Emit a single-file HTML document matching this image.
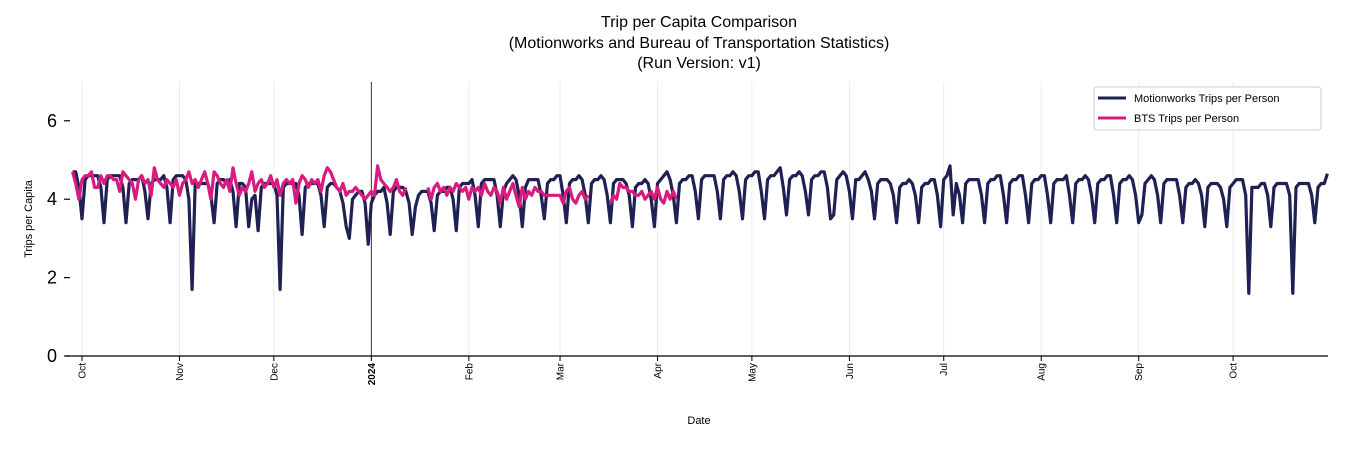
<!DOCTYPE html>
<html><head><meta charset="utf-8"><style>
html,body{margin:0;padding:0;background:#fff;}
svg{display:block;font-family:"Liberation Sans","DejaVu Sans",sans-serif;}
</style></head><body>
<svg id="chart" width="1350" height="450" viewBox="0 0 1350 450">
<g font-size="16" fill="#000" text-anchor="middle">
<text x="699" y="27">Trip per Capita Comparison</text>
<text x="699" y="48">(Motionworks and Bureau of Transportation Statistics)</text>
<text x="699" y="68">(Run Version: v1)</text>
</g>
<g id="grid"></g>
<g id="series"></g>
<line x1="66" y1="356" x2="1328" y2="356" stroke="#000" stroke-width="1.2"/>
<g id="yaxis"></g>
<g id="xaxis"></g>
<text transform="translate(32,219) rotate(-90)" text-anchor="middle" font-size="11">Trips per Capita</text>
<text x="699" y="424" text-anchor="middle" font-size="11">Date</text>
<g>
<rect x="1094" y="87" width="227" height="43" rx="3" fill="#fff" stroke="#ccc" stroke-width="1"/>
<g>
<line x1="1098" y1="98" x2="1126" y2="98" stroke="#1f2054" stroke-width="3"/>
<text x="1134" y="102" font-size="11">Motionworks Trips per Person</text></g>
<g>
<line x1="1098" y1="118" x2="1126" y2="118" stroke="#d81b7f" stroke-width="3"/>
<text x="1134" y="122" font-size="11">BTS Trips per Person</text></g>
</g>
</svg>
<script>
// Data: daily values starting Thu 2023-09-28
const mwValues = [
4.7,4.7,4.3,3.5,4.5,4.6,4.6,
4.6,4.6,4.3,3.4,4.5,4.6,4.6,
4.6,4.6,4.3,3.4,4.4,4.5,4.5,
4.5,4.6,4.2,3.5,4.4,4.5,4.5,
4.5,4.6,4.3,3.4,4.5,4.6,4.6,
4.6,4.5,4.0,1.7,4.4,4.4,4.4,
4.4,4.4,4.1,3.4,4.4,4.5,4.5,
4.4,4.5,4.2,3.3,4.4,4.4,4.3,
3.3,4.0,4.1,3.2,4.3,4.4,4.4,
4.4,4.4,4.1,1.7,4.3,4.4,4.4,
4.4,4.4,4.1,3.1,4.3,4.4,4.4,
4.4,4.4,4.1,3.3,4.3,4.4,4.4,
4.3,4.2,3.9,3.3,3.0,4.0,4.1,
4.2,4.2,3.9,2.85,3.9,4.1,4.2,
4.2,4.3,3.9,3.1,4.2,4.3,4.3,
4.3,4.2,3.9,3.1,3.8,4.1,4.2,
4.2,4.2,3.9,3.2,4.1,4.2,4.2,
4.3,4.3,4.0,3.2,4.3,4.4,4.4,
4.4,4.5,4.1,3.3,4.4,4.5,4.5,
4.5,4.5,4.1,3.3,4.2,4.4,4.5,
4.6,4.5,4.1,3.3,4.3,4.5,4.5,
4.5,4.5,4.1,3.5,4.4,4.5,4.5,
4.6,4.6,4.1,3.4,4.4,4.5,4.5,
4.6,4.5,4.1,3.4,4.4,4.5,4.5,
4.6,4.5,4.1,3.4,4.4,4.5,4.5,
4.5,4.4,4.1,3.3,4.3,4.4,4.4,
4.5,4.4,4.0,3.3,4.4,4.5,4.6,
4.7,4.5,4.1,3.4,4.4,4.5,4.5,
4.6,4.6,4.2,3.5,4.5,4.6,4.6,
4.6,4.6,4.2,3.5,4.5,4.6,4.6,
4.7,4.6,4.2,3.5,4.5,4.6,4.6,
4.7,4.7,4.2,3.5,4.5,4.6,4.6,
4.7,4.8,4.3,3.6,4.5,4.6,4.6,
4.7,4.6,4.2,3.6,4.5,4.6,4.6,
4.7,4.7,4.3,3.5,3.6,4.5,4.6,
4.7,4.6,4.2,3.5,4.5,4.5,4.6,
4.7,4.5,4.2,3.5,4.4,4.5,4.5,
4.5,4.4,4.1,3.4,4.3,4.4,4.4,
4.5,4.4,4.1,3.4,4.3,4.4,4.4,
4.5,4.5,4.1,3.3,4.5,4.6,4.85,
3.6,4.4,4.1,3.4,4.4,4.5,4.5,
4.5,4.5,4.1,3.4,4.4,4.5,4.5,
4.6,4.6,4.1,3.4,4.4,4.5,4.5,
4.6,4.6,4.1,3.4,4.4,4.5,4.5,
4.6,4.6,4.1,3.4,4.4,4.5,4.5,
4.5,4.6,4.1,3.4,4.4,4.5,4.5,
4.6,4.5,4.1,3.4,4.4,4.5,4.5,
4.6,4.6,4.1,3.4,4.4,4.5,4.5,
4.6,4.5,4.1,3.4,3.6,4.4,4.5,
4.6,4.5,4.1,3.4,4.4,4.5,4.5,
4.5,4.5,4.1,3.4,4.3,4.4,4.4,
4.5,4.4,4.1,3.3,4.3,4.4,4.4,
4.4,4.3,4.0,3.3,4.3,4.4,4.5,
4.5,4.5,4.1,1.6,4.3,4.3,4.3,
4.4,4.4,4.1,3.3,4.3,4.4,4.4,
4.4,4.4,4.1,1.6,4.3,4.4,4.4,
4.4,4.4,4.1,3.4,4.3,4.4,4.4,
4.65];
const btsValues = [
4.7,4.4,4.0,4.5,4.6,4.6,4.7,4.3,4.3,4.6,
4.4,4.6,4.6,4.5,4.5,4.2,4.7,4.6,4.5,4.4,
4.0,4.5,4.6,4.4,4.5,4.1,4.8,4.5,4.4,4.3,
4.5,4.4,4.3,4.5,4.1,4.4,4.5,4.7,4.4,4.5,
4.3,4.5,4.7,4.4,4.0,4.7,4.6,4.4,4.3,4.5,
4.2,4.8,4.4,4.1,4.3,4.2,4.4,4.7,4.2,4.4,
4.5,4.3,4.4,4.6,4.3,4.5,4.1,4.4,4.5,4.4,
4.5,3.9,4.4,4.6,4.5,4.3,4.5,4.4,4.5,4.2,
4.6,4.8,4.7,4.5,4.3,4.2,4.4,4.1,4.2,4.2,
4.3,4.2,4.1,4.0,4.1,4.2,4.1,4.85,4.5,4.4,
4.3,4.2,4.3,4.5,4.2,4.1,4.3,
null,null,null,null,null,null,
4.3,4.0,4.3,4.4,4.2,4.3,4.1,4.3,4.2,4.4,
4.3,4.2,4.3,4.0,4.3,4.2,4.3,4.1,4.4,4.2,
4.1,4.3,4.2,3.9,4.3,4.0,4.2,4.4,4.1,3.8,
4.3,4.0,4.2,4.1,4.3,4.2,4.2,4.1,4.1,4.1,
4.1,4.1,4.1,3.9,4.2,4.3,4.0,3.9,4.1,4.2,
4.0,4.1,
null,null,null,null,null,null,
3.9,4.1,4.0,4.4,4.3,4.3,4.2,4.2,4.1,4.1,
4.2,4.0,4.1,4.2,4.0,4.3,4.0,3.9,4.2,4.0,
4.2,4.0];
const monthLabels = ["Oct","Nov","Dec","2024","Feb","Mar","Apr","May","Jun","Jul","Aug","Sep","Oct"];
const monthDayIndex = [3,34,64,95,126,155,186,216,247,277,308,339,369];
const yTicks = [0,2,4,6];

const NS="http://www.w3.org/2000/svg";
function xScale(d){return 82+(d-3)*3.145;}
function yScale(v){return 356-v*39.2;}
function mk(tag,attrs,parent){const e=document.createElementNS(NS,tag);for(const k in attrs)e.setAttribute(k,attrs[k]);parent.appendChild(e);return e;}

const grid=document.getElementById('grid');
const xaxis=document.getElementById('xaxis');
monthDayIndex.forEach((d,i)=>{
  const x=xScale(d);
  const isYear=monthLabels[i]==="2024";
  const gl=mk('line',{x1:x,y1:82,x2:x,y2:356,stroke:isYear?'#333':'#e6e6e6','stroke-width':isYear?1:0.8},grid);
  
  
  const tk=mk('line',{x1:x,y1:356,x2:x,y2:361,stroke:'#000','stroke-width':1},xaxis);
  
  
  const t=mk('text',{transform:`translate(${x+3.5},363) rotate(-90)`,'text-anchor':'end','font-size':'10','font-weight':isYear?'bold':'normal'},xaxis);
  t.textContent=monthLabels[i];
  
  
});
const yaxis=document.getElementById('yaxis');
yTicks.forEach(v=>{
  const y=yScale(v);
  const tk=mk('line',{x1:64,y1:y,x2:70,y2:y,stroke:'#000','stroke-width':1.2},yaxis);
  
  
  const t=mk('text',{x:57,y:y+6,'text-anchor':'end','font-size':'18'},yaxis);
  t.textContent=v;
  
  
});

function pathFor(vals){
  let d='',pen=false;
  vals.forEach((v,i)=>{
    if(v===null||v===undefined){pen=false;return;}
    d+=(pen?'L':'M')+xScale(i).toFixed(1)+','+yScale(v).toFixed(1);
    pen=true;
  });
  return d;
}
const series=document.getElementById('series');
const p1=mk('path',{d:pathFor(mwValues),fill:'none',stroke:'#1f2054','stroke-width':3.2,'stroke-linejoin':'round'},series);


const p2=mk('path',{d:pathFor(btsValues),fill:'none',stroke:'#d81b7f','stroke-width':3.2,'stroke-linejoin':'round'},series);


</script>
</body></html>
